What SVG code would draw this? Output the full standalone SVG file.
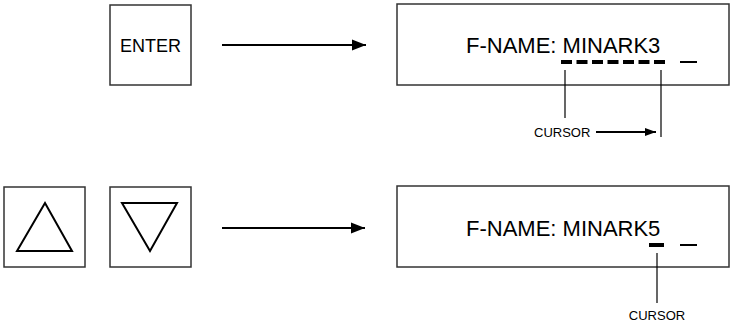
<svg xmlns="http://www.w3.org/2000/svg" width="731" height="326" viewBox="0 0 731 326">
<style>
.box{fill:#fff;stroke:#333;stroke-width:1.5}
.tri{fill:none;stroke:#000;stroke-width:2;stroke-linejoin:miter}
.lbl{font-family:"Liberation Sans",Arial,sans-serif;fill:#000}
.conn{stroke:#000;stroke-width:2;fill:none}
.thin{stroke:#000;stroke-width:1.2;fill:none}
</style>
<defs>
<marker id="ah" markerUnits="userSpaceOnUse" markerWidth="14" markerHeight="12" refX="14" refY="6" orient="auto">
<path d="M0,0.5 L14,6 L0,11.5 Z" fill="#000"/>
</marker>
<marker id="ahs" markerUnits="userSpaceOnUse" markerWidth="11" markerHeight="9" refX="11" refY="4.5" orient="auto">
<path d="M0,0.5 L11,4.5 L0,8.5 Z" fill="#000"/>
</marker>
</defs>
<g id="enter-key">
<rect class="box" x="110" y="5" width="81" height="80"/>
<text class="lbl" x="150.5" y="52" font-size="18" text-anchor="middle">ENTER</text>
</g>
<g id="display1">
<rect class="box" x="397" y="4" width="332" height="81"/>
<text class="lbl" x="466" y="53" font-size="22">F-NAME: MINARK3</text>
<line x1="561" y1="62" x2="665" y2="62" stroke="#000" stroke-width="4" stroke-dasharray="11 4.5"/>
<line x1="680" y1="62" x2="697" y2="62" stroke="#000" stroke-width="2"/>
</g>
<g id="up-key">
<rect class="box" x="4" y="187" width="81" height="80"/>
<polygon class="tri" points="45,203 17,251 72,251"/>
</g>
<g id="down-key">
<rect class="box" x="110" y="187" width="81" height="80"/>
<polygon class="tri" points="122,203 177,203 150,251"/>
</g>
<g id="display2">
<rect class="box" x="397" y="186" width="332" height="81"/>
<text class="lbl" x="466" y="236" font-size="22">F-NAME: MINARK5</text>
<line x1="649" y1="245" x2="664" y2="245" stroke="#000" stroke-width="4"/>
<line x1="680" y1="245" x2="697" y2="245" stroke="#000" stroke-width="2"/>
</g>
<g id="cursor-label1">
<text class="lbl" x="534" y="137" font-size="13">CURSOR</text>
</g>
<g id="cursor-label2">
<text class="lbl" x="657" y="320" font-size="13" text-anchor="middle">CURSOR</text>
</g>
<g id="connectors">
<line class="conn" x1="222" y1="45" x2="366" y2="45" marker-end="url(#ah)"/>
<line class="conn" x1="222" y1="228" x2="365" y2="228" marker-end="url(#ah)"/>
<line class="thin" x1="565" y1="70" x2="565" y2="118"/>
<line class="thin" x1="661" y1="70" x2="661" y2="137"/>
<line class="conn" x1="596" y1="132" x2="656" y2="132" stroke-width="1.5" marker-end="url(#ahs)"/>
<line class="thin" x1="657" y1="253" x2="657" y2="303"/>
</g>
</svg>
